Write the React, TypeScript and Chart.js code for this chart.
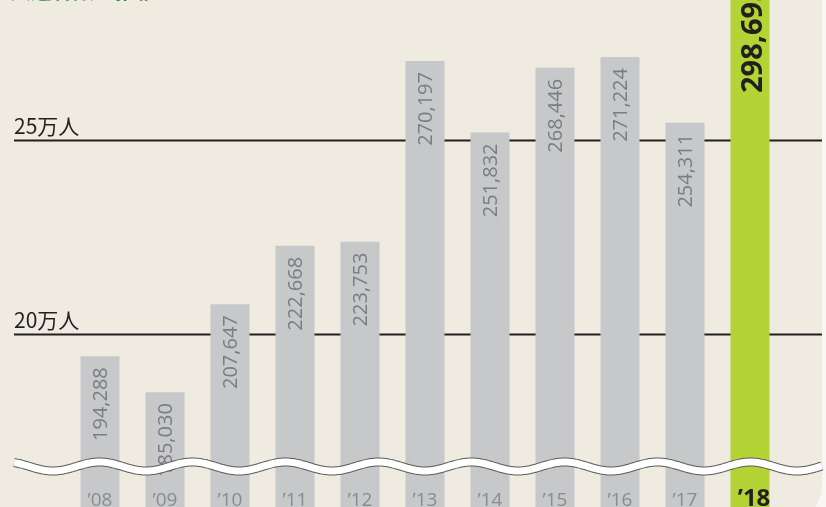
import React, { useEffect, useRef } from "react";
import { Chart, registerables } from "chart.js";

Chart.register(...registerables);

const CATEGORIES = ["’08", "’09", "’10", "’11", "’12", "’13", "’14", "’15", "’16", "’17", "’18"];
const VISITORS = [194288, 185030, 207647, 222668, 223753, 270197, 251832, 268446, 271224, 254311, 298695];
const HIGHLIGHT_INDEX = 10;
const GRID_VALUES = [200000, 250000];
const GRID_LABELS = ["20万人", "25万人"];
const TITLE = "入込客数の推移（人）";
const Y_MIN = 155500;
const Y_MAX = 285900;

const W = 826;
const H = 507;
const BG = "#efebe1";
const BAR_GRAY = "#c7c8ca";
const BAR_GREEN = "#b4d334";
const DARK = "#231f20";

const fmt = (v: number) => v.toLocaleString("en-US");

const decoPlugin = {
  id: "deco",
  beforeDraw(chart: any) {
    const ctx = chart.ctx;
    ctx.save();
    ctx.fillStyle = "#f8f7f3";
    ctx.fillRect(0, 0, W, H);
    ctx.fillStyle = BG;
    ctx.beginPath();
    (ctx as any).roundRect(-50, -50, 822 + 50, 575, 40);
    ctx.fill();
    ctx.restore();
  },
  beforeDatasetsDraw(chart: any) {
    const ctx = chart.ctx;
    const y = chart.scales.y;
    ctx.save();
    GRID_VALUES.forEach((v, i) => {
      const py = Math.round(y.getPixelForValue(v)) + 0.5;
      ctx.strokeStyle = DARK;
      ctx.lineWidth = 1.8;
      ctx.beginPath();
      ctx.moveTo(14, py);
      ctx.lineTo(822, py);
      ctx.stroke();
      ctx.fillStyle = DARK;
      ctx.font = '21px "Noto Sans CJK JP", "Noto Sans", sans-serif';
      ctx.textAlign = "left";
      ctx.textBaseline = "alphabetic";
      ctx.fillText(GRID_LABELS[i], 14, py - 7);
    });
    ctx.restore();
  },
  afterDatasetsDraw(chart: any) {
    const ctx = chart.ctx;
    const meta = chart.getDatasetMeta(0);
    ctx.save();
    meta.data.forEach((bar: any, i: number) => {
      const hi = i === HIGHLIGHT_INDEX;
      ctx.save();
      ctx.translate(hi ? bar.x + 4 : bar.x + 1, bar.y + (hi ? 35 : 11));
      ctx.rotate(-Math.PI / 2);
      ctx.textAlign = "right";
      ctx.textBaseline = "middle";
      ctx.fillStyle = hi ? DARK : "#7c7d80";
      ctx.font = hi ? 'bold 29px "Open Sans", sans-serif' : '20px "Open Sans", sans-serif';
      ctx.fillText(fmt(VISITORS[i]), 0, 0);
      ctx.restore();
    });
    const wave = () => {
      ctx.beginPath();
      for (let x = 14; x <= 822; x += 1) {
        const yy = 466.5 + 4.5 * Math.cos((2 * Math.PI * (x - 53)) / 93);
        if (x === 14) ctx.moveTo(x, yy);
        else ctx.lineTo(x, yy);
      }
    };
    ctx.lineCap = "butt";
    ctx.lineJoin = "round";
    wave();
    ctx.strokeStyle = "#5a5a5a";
    ctx.lineWidth = 9;
    ctx.stroke();
    wave();
    ctx.strokeStyle = "#ffffff";
    ctx.lineWidth = 7;
    ctx.stroke();
    meta.data.forEach((bar: any, i: number) => {
      const hi = i === HIGHLIGHT_INDEX;
      ctx.textAlign = "center";
      ctx.textBaseline = "alphabetic";
      ctx.fillStyle = hi ? DARK : "#8a8b8e";
      ctx.font = hi ? 'bold 24px "Open Sans", sans-serif' : '19px "Open Sans", sans-serif';
      ctx.fillText(CATEGORIES[i], hi ? bar.x + 4 : bar.x, 506);
    });
    ctx.fillStyle = "#2e8b2e";
    ctx.font = 'bold 21px "Noto Sans CJK JP", sans-serif';
    ctx.textAlign = "left";
    ctx.textBaseline = "alphabetic";
    ctx.fillText(TITLE, 10, -2);
    ctx.restore();
  },
};

export default function App() {
  const ref = useRef<HTMLCanvasElement>(null);
  useEffect(() => {
    if (!ref.current) return;
    const chart = new Chart(ref.current, {
      type: "bar",
      data: {
        labels: CATEGORIES,
        datasets: [
          {
            data: VISITORS,
            backgroundColor: VISITORS.map((_, i) => (i === HIGHLIGHT_INDEX ? BAR_GREEN : BAR_GRAY)),
            borderWidth: 0,
            categoryPercentage: 1,
            barPercentage: 0.6,
          },
        ],
      },
      options: {
        responsive: false,
        animation: false,
        devicePixelRatio: 1,
        layout: { padding: { left: 67.5, right: 43.5, top: 0, bottom: 0 } },
        scales: {
          x: { display: false },
          y: { display: false, min: Y_MIN, max: Y_MAX },
        },
        plugins: { legend: { display: false }, tooltip: { enabled: false } },
      },
      plugins: [decoPlugin],
    });
    return () => chart.destroy();
  }, []);
  return (
    <div style={{ position: "absolute", left: 0, top: 0, width: W, height: H }}>
      <canvas ref={ref} width={W} height={H} style={{ display: "block" }} />
    </div>
  );
}
